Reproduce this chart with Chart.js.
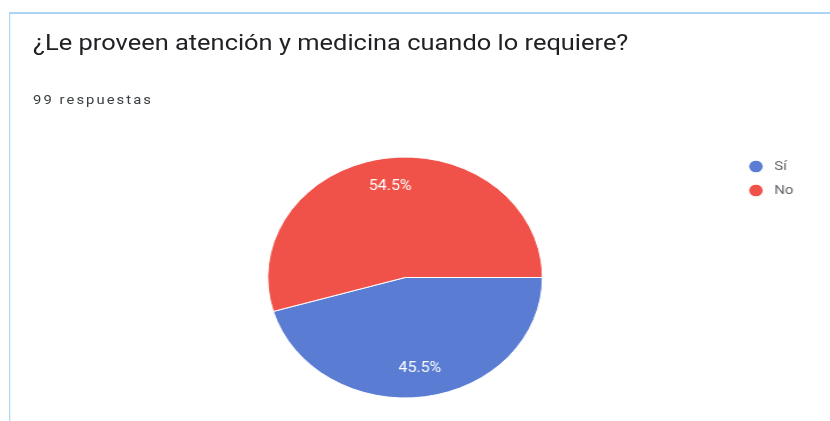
<!DOCTYPE html>
<html><head><meta charset="utf-8">
<script src="https://cdn.jsdelivr.net/npm/chart.js@4"></script>
<style>
html,body{margin:0;padding:0;background:#fff;width:830px;height:421px;overflow:hidden}
#wrap{position:absolute;left:0;top:0;width:728px;height:421px;transform:scaleX(1.14);transform-origin:0 0;}
#card{position:absolute;left:8px;top:12px;width:760px;height:460px;border-style:solid;border-color:#a9d5f3;border-width:2px 0 0 1.5px}
#title{position:absolute;left:29px;top:29px;font:22.3px Roboto,sans-serif;color:#202124;white-space:nowrap}
#sub{position:absolute;left:29px;top:92px;font:13px Roboto,sans-serif;letter-spacing:1.8px;color:#3c4043;white-space:nowrap}
canvas{position:absolute;left:0;top:0}
</style></head>
<body>
<div id="wrap">
  <div id="card"></div>
  <div id="title"></div>
  <div id="sub"></div>
  <canvas id="c" width="728" height="421"></canvas>
</div>
<script>
const chartTitle = '¿Le proveen atención y medicina cuando lo requiere?';
const responsesText = '99 respuestas';
const categories = ['Sí', 'No'];
const counts = [45, 54];
const sliceColors = ['#5a7dd3', '#f05249'];

document.getElementById('title').textContent = chartTitle;
document.getElementById('sub').textContent = responsesText;

const total = counts.reduce((a, b) => a + b, 0);

const pctLabels = {
  id: 'pctLabels',
  afterDatasetsDraw(chart) {
    const ctx = chart.ctx;
    const meta = chart.getDatasetMeta(0);
    ctx.save();
    ctx.fillStyle = '#ffffff';
    ctx.font = '14px Roboto, sans-serif';
    ctx.textAlign = 'center';
    ctx.textBaseline = 'middle';
    meta.data.forEach((arc, i) => {
      const p = arc.getProps(['x', 'y', 'startAngle', 'endAngle', 'outerRadius'], true);
      const mid = (p.startAngle + p.endAngle) / 2;
      const r = p.outerRadius * 0.76;
      const txt = (counts[i] / total * 100).toFixed(1) + '%';
      ctx.fillText(txt, p.x + Math.cos(mid) * r, p.y + Math.sin(mid) * r);
    });
    ctx.restore();
  }
};

new Chart(document.getElementById('c'), {
  type: 'pie',
  data: {
    labels: categories,
    datasets: [{
      data: counts,
      backgroundColor: sliceColors,
      borderColor: '#ffffff',
      borderWidth: 1
    }]
  },
  options: {
    responsive: false,
    animation: false,
    events: [],
    rotation: 90,
    radius: 120.5,
    layout: { padding: { top: 149, bottom: 15, left: 65, right: 22 } },
    plugins: {
      tooltip: { enabled: false },
      legend: {
        position: 'right',
        align: 'start',
        labels: {
          usePointStyle: true,
          pointStyle: 'circle',
          boxHeight: 9,
          padding: 11,
          color: '#5f6368',
          font: { family: 'Roboto, sans-serif', size: 13 },
          generateLabels(chart) {
            const items = Chart.overrides.pie.plugins.legend.labels.generateLabels(chart);
            items.forEach(it => { it.text = ' ' + it.text; });
            return items;
          }
        }
      }
    }
  },
  plugins: [pctLabels]
});
</script>
</body></html>
